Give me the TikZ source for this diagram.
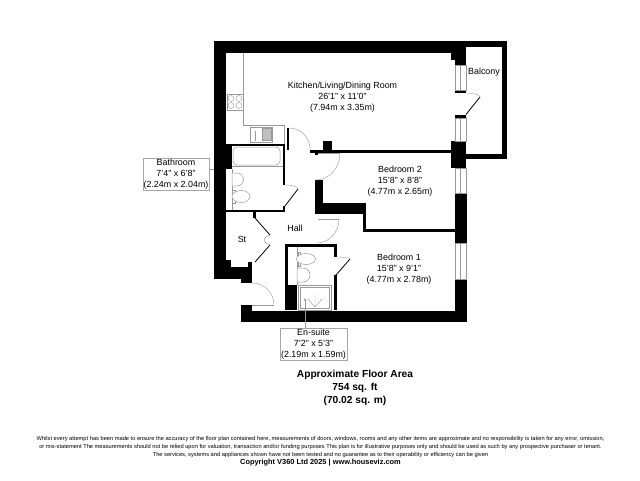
\documentclass[tikz,border=0pt]{standalone}
\usepackage{fontspec}
\setmainfont{Liberation Sans}
\tikzset{>=stealth}
\tikzset{
  wall/.style={fill=black},
  fitting/.style={draw=black!40, line width=.5pt, fill=white},
  door/.style={draw=black!40, line width=.4pt},
  leaf/.style={draw=black, line width=.8pt},
  glass/.style={draw=black!40, line width=.4pt, fill=white},
  room/.style={align=center, font=\fontsize{8.9}{11}\selectfont, inner sep=0pt},
  dimbox/.style={room, draw=black!35, line width=.5pt, fill=white, minimum width=66.5pt, minimum height=31.5pt}
}
\begin{document}
\begin{tikzpicture}[x=1pt, y=-1pt]
            \useasboundingbox (0,0) rectangle (640,480);
            \fill[white] (0,0) rectangle (640,480);

            \fill[wall] (214,41) rectangle (466,53);
            \fill[wall] (466,41) rectangle (507,47);
            \fill[wall] (214,41) rectangle (226,279);
            \fill[wall] (226,145) rectangle (232,169);
            \fill[wall] (226,260) rectangle (231,279);
            \fill[wall] (231,267) rectangle (252,279);
            \fill[wall] (248,262) rectangle (252,267);
            \fill[wall] (241,279) rectangle (252,283);
            \fill[wall] (241,305) rectangle (252,322);
            \fill[wall] (241,310.5) rectangle (467,322);
            \fill[wall] (501.5,41) rectangle (507,159);
            \fill[wall] (466,154) rectangle (507,159);
            \fill[wall] (451,53) rectangle (466,60);
            \fill[wall] (455,53) rectangle (466,65);
            \fill[wall] (455,90) rectangle (466,93);
            \fill[wall] (455,115) rectangle (466,118);
            \fill[wall] (451,141) rectangle (466,168);
            \fill[wall] (455,193) rectangle (467,243);
            \fill[wall] (455,279) rectangle (467,322);
            \fill[wall] (287,127.5) rectangle (289,150);
            \fill[wall] (226,143.5) rectangle (285,146);
            \fill[wall] (282.5,143.5) rectangle (285,185);
            \fill[wall] (282.5,206) rectangle (285,212);
            \fill[wall] (226,209.5) rectangle (285,212);
            \fill[wall] (253,209.5) rectangle (256,218);
            \fill[wall] (310,150) rectangle (451,152.5);
            \fill[wall] (323,141) rectangle (332,150);
            \fill[wall] (315,150) rectangle (318,155);
            \fill[wall] (315,180) rectangle (323,213);
            \fill[wall] (315,203) rectangle (366,214);
            \fill[wall] (363,203) rectangle (366,231);
            \fill[wall] (363,229) rectangle (455,231.5);
            \fill[wall] (285,244) rectangle (336.5,247);
            \fill[wall] (285,244) rectangle (288,310);
            \fill[wall] (285,285) rectangle (297,310);
            \fill[wall] (333.5,244) rectangle (336.5,257);
            \fill[wall] (333.5,275) rectangle (336.5,310);

            \draw[glass] (455,65) rectangle (466,90);
            \draw[glass] (460.5,65)--(460.5,90);
            \draw[glass] (455,118) rectangle (466,141);
            \draw[glass] (460.5,118)--(460.5,141);
            \draw[glass] (455,168) rectangle (466,193);
            \draw[glass] (460.5,168)--(460.5,193);
            \draw[glass] (455,243) rectangle (466,279);
            \draw[glass] (460.5,243)--(460.5,279);

            \draw[door] (243,53)--(243,125.5)--(284,125.5)--(284,143.5);
            \draw[fitting] (227,94) rectangle (243,110);
            \draw[door] (235,102) ++(-4,-3.5) circle (3);
            \draw[door] (235,102) ++(4,-3.5) circle (3);
            \draw[door] (235,102) ++(-4,3.5) circle (3);
            \draw[door] (235,102) ++(4,3.5) circle (3);
            \draw[fitting] (250,127) rectangle (272,142);
            \draw[door, fill=black!25] (262,128) rectangle (271,140);
            \draw[door] (255,141)--(255,131);

            \draw[fitting, rounded corners=4pt] (233,147) rectangle (280,165);
            \draw[door] (232,166.5)--(283,166.5);
            \draw[door] (232,169)--(232,210);
            \draw[fitting] (232,173) -- (237,173) arc (-90:90:6.5) -- (232,186) -- cycle;
            \draw[fitting] (232,190) rectangle (235,203);
            \draw[fitting] (241,196.5) ellipse (9 and 6);

            \draw[door] (297,247)--(297,285);
            \draw[fitting] (298,252) rectangle (300,266);
            \draw[fitting] (306,259) ellipse (9.5 and 5.5);
            \draw[fitting] (297,268) -- (303,268) arc (-90:90:7) -- (297,282) -- cycle;
            \draw[fitting] (298,285.5) rectangle (331,310);
            \draw[door] (300,287) rectangle (329,308);
            \draw[door] (315,295)--(315,307) (308,299)--(315,307)--(322,299);

            \draw[door] (289,128) arc (-90:0:21);
            \draw[door] (318,153)--(340,153);
            \draw[door] (340,153) arc (0:90:24 and 27);
            \draw[door] (318,219)--(339,219);
            \draw[door] (339,219) arc (0:90:22 and 24);
            \draw[door] (252,283) arc (-90:0:22);
            \draw[door] (252,305)--(274,305);
            \draw[leaf] (466,114.5)--(480,97);
            \draw[door] (466,93) arc (-90:0:14 and 4);
            \draw[leaf] (285,206)--(298,189);
            \draw[door] (285,185) arc (-90:0:13 and 4);
            \draw[leaf] (336,275)--(350,259);
            \draw[door] (336,257) arc (-90:0:14 and 2);
            \draw[leaf] (255,218)--(270,235);
            \draw[leaf] (270,245)--(255,262);
            \draw[door] (270,235) .. controls (262,238) and (262,242) .. (270,245);

            \node[room] (kitchen) at (342.5,97.5) {Kitchen/Living/Dining Room\\26'1" x 11'0"\\(7.94m x 3.35m)};
            \node[room] (balcony) at (484,72) {Balcony};
            \node[room] (bed2) at (400,181) {Bedroom 2\\15'8" x 8'8"\\(4.77m x 2.65m)};
            \node[room] (bed1) at (399,269) {Bedroom 1\\15'8" x 9'1"\\(4.77m x 2.78m)};
            \node[room] (hall) at (295,228) {Hall};
            \node[room] (st) at (242,239) {St};
            \node[dimbox] (bath) at (176,174) {Bathroom\\7'4" x 6'8"\\(2.24m x 2.04m)};
            \node[dimbox] (ensuite) at (313.5,344) {En-suite\\7'2" x 5'3"\\(2.19m x 1.59m)};
            \coordinate (bathend) at (214,169);
            \coordinate (ensuiteend) at (305,298);
            \draw[door] (bath.east |- bathend)--(bathend);
            \draw[door, ->] (ensuite.north -| ensuiteend)--(ensuiteend);

            \node[align=center, font=\fontsize{10.2}{12.8}\bfseries\selectfont, inner sep=0pt] (area) at (355,388) {Approximate Floor Area\\754 sq. ft\\(70.02 sq. m)};
            \node[align=center, font=\fontsize{5.7}{8}\selectfont, inner sep=0pt] (note) at (320.5,447) {Whilst every attempt has been made to ensure the accuracy of the floor plan contained here, measurements of doors, windows, rooms and any other items are approximate and no responsibility is taken for any error, omission,\\or mis-statement The measurements should not be relied upon for valuation, transaction and/or funding purposes This plan is for illustrative purposes only and should be used as such by any prospective purchaser or tenant.\\The services, systems and appliances shown have not been tested and no guarantee as to their operability or efficiency can be given};
            \node[font=\fontsize{7.4}{8}\bfseries\selectfont, inner sep=0pt] (copyright) at (320.5,463) {Copyright V360 Ltd 2025 | www.houseviz.com};
            \end{tikzpicture}
\end{document}
